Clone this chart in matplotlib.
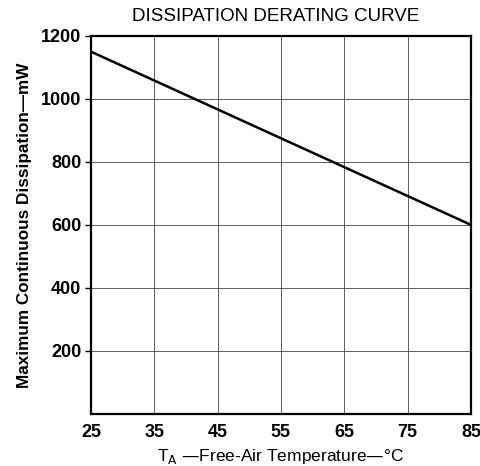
import matplotlib
matplotlib.use("Agg")
import matplotlib.pyplot as plt

temps = [25, 85]
power_mw = [1150, 600]
x_ticks = [25, 35, 45, 55, 65, 75, 85]
y_ticks = [200, 400, 600, 800, 1000, 1200]

plt.rcParams['font.family'] = ['Liberation Sans', 'DejaVu Sans']

fig = plt.figure(figsize=(4.81, 4.66), dpi=100)
ax = fig.add_axes([0.189, 0.112, 0.790, 0.811])
ax.plot(temps, power_mw, color='black', lw=1.8, solid_capstyle='butt')
ax.set_xlim(25, 85)
ax.set_ylim(0, 1200)
ax.set_xticks(x_ticks)
ax.set_yticks(y_ticks)
ax.grid(True, color='#444444', lw=0.6)
for s in ax.spines.values():
    s.set_linewidth(1.6)
ax.tick_params(axis='both', length=4, width=1, labelsize=13, direction='out')
ax.tick_params(axis='x', length=0, pad=7)
ax.tick_params(axis='y', pad=3)
for lab in ax.get_xticklabels() + ax.get_yticklabels():
    lab.set_fontweight('bold')
ax.set_xlabel(r"T$_{\mathrm{A}}$ —Free-Air Temperature—°C", fontsize=12.5, labelpad=5)
ax.set_ylabel("Maximum Continuous Dissipation—mW", fontsize=12.3, fontweight='bold', labelpad=6)
fig.text(0.572, 0.965, "DISSIPATION DERATING CURVE",
         ha='center', va='center', fontsize=13.5)
fig.savefig("out.png", dpi=100)
